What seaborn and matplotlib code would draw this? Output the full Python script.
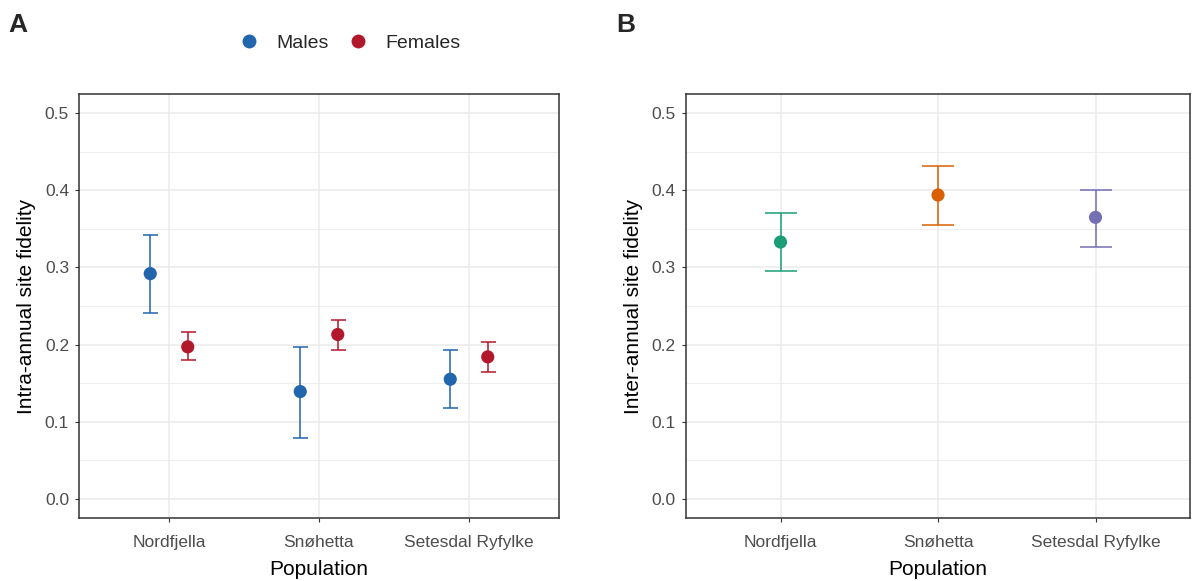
import numpy as np
import pandas as pd
import matplotlib
matplotlib.use("Agg")
import matplotlib.pyplot as plt
import seaborn as sns
from matplotlib.lines import Line2D

# ---------------- data ----------------
populations = ["Nordfjella", "Snøhetta", "Setesdal Ryfylke"]
sexes = ["Males", "Females"]

intra_males = [0.292, 0.139, 0.155]
intra_males_lo = [0.241, 0.079, 0.118]
intra_males_hi = [0.342, 0.197, 0.193]

intra_females = [0.197, 0.213, 0.184]
intra_females_lo = [0.180, 0.193, 0.164]
intra_females_hi = [0.216, 0.232, 0.203]

inter_values = [0.333, 0.394, 0.365]
inter_lo = [0.295, 0.355, 0.326]
inter_hi = [0.371, 0.431, 0.401]

yticks = [0.0, 0.1, 0.2, 0.3, 0.4, 0.5]

# ---------------- style ----------------
sns.set_theme(style="white")
plt.rcParams["font.family"] = ["Liberation Sans", "DejaVu Sans"]

sex_colors = {"Males": "#2166AC", "Females": "#B2182B"}
pop_colors = ["#1B9E77", "#D95F02", "#7570B3"]
dodge = 0.125

W, H = 1193, 581
fig = plt.figure(figsize=(W / 100, H / 100), dpi=100)

def px_axes(left, top, right, bottom):
    return fig.add_axes([left / W, 1 - bottom / H, (right - left) / W, (bottom - top) / H])

axA = px_axes(79, 94, 559, 518)
axB = px_axes(686, 94, 1190, 518)

# panel A data frame
dfA = pd.DataFrame({
    "population": populations * 2,
    "sex": ["Males"] * 3 + ["Females"] * 3,
    "value": intra_males + intra_females,
    "lo": intra_males_lo + intra_females_lo,
    "hi": intra_males_hi + intra_females_hi,
})
dfA["pos"] = dfA["population"].map({p: i for i, p in enumerate(populations)}) + \
    dfA["sex"].map({"Males": -dodge, "Females": dodge})

for sex in sexes:
    sub = dfA[dfA["sex"] == sex]
    axA.errorbar(sub["pos"], sub["value"],
                 yerr=[sub["value"] - sub["lo"], sub["hi"] - sub["value"]],
                 fmt="none", ecolor=sex_colors[sex], elinewidth=1.1,
                 capsize=5.4, capthick=1.1, zorder=3)
sns.scatterplot(data=dfA, x="pos", y="value", hue="sex", hue_order=sexes,
                palette=sex_colors, s=90, edgecolor="none", legend=False,
                ax=axA, zorder=4)

# panel B data frame
dfB = pd.DataFrame({
    "population": populations,
    "value": inter_values,
    "lo": inter_lo,
    "hi": inter_hi,
})
dfB["pos"] = np.arange(len(populations))
for i, row in dfB.iterrows():
    axB.errorbar([row["pos"]], [row["value"]],
                 yerr=[[row["value"] - row["lo"]], [row["hi"] - row["value"]]],
                 fmt="none", ecolor=pop_colors[i], elinewidth=1.1,
                 capsize=11.2, capthick=1.1, zorder=3)
sns.scatterplot(data=dfB, x="pos", y="value", hue="population",
                hue_order=populations, palette=pop_colors, s=90,
                edgecolor="none", legend=False, ax=axB, zorder=4)

for ax, ylab in [(axA, "Intra-annual site fidelity"), (axB, "Inter-annual site fidelity")]:
    ax.set_xlim(-0.6, 2.6)
    ax.set_ylim(-0.025, 0.525)
    ax.set_xticks(range(len(populations)))
    ax.set_xticklabels(populations)
    ax.set_yticks(yticks)
    ax.set_yticklabels([f"{t:.1f}" for t in yticks])
    ax.set_yticks([0.05, 0.15, 0.25, 0.35, 0.45], minor=True)
    ax.grid(True, which="major", color="#EBEBEB", linewidth=1.1)
    ax.grid(True, which="minor", axis="y", color="#EBEBEB", linewidth=0.6)
    ax.set_axisbelow(True)
    for s in ax.spines.values():
        s.set_visible(True)
        s.set_color("#333333")
        s.set_linewidth(1.1)
    ax.tick_params(axis="both", which="major", length=3.2, width=0.8,
                   color="#333333", labelcolor="#4D4D4D", labelsize=12.5,
                   left=True, bottom=True)
    ax.tick_params(axis="x", pad=9)
    ax.tick_params(axis="y", pad=4)
    ax.tick_params(axis="y", which="minor", length=0)
    ax.set_xlabel("Population", fontsize=15, color="black", labelpad=7)
    ax.set_ylabel(ylab, fontsize=15, color="black", labelpad=6)

# legend
handles = [Line2D([], [], marker="o", linestyle="none", markersize=10,
                  markerfacecolor=sex_colors[s], markeredgecolor="none")
           for s in sexes]
fig.legend(handles, sexes, loc="center", bbox_to_anchor=(349 / W, 1 - 43 / H),
           ncol=2, frameon=False, fontsize=14, handletextpad=0.8,
           columnspacing=0.9, handlelength=1.2)

# panel labels
fig.text(18 / W, 1 - 25 / H, "A", fontsize=19, fontweight="bold",
         ha="center", va="center")
fig.text(626 / W, 1 - 25 / H, "B", fontsize=19, fontweight="bold",
         ha="center", va="center")

fig.savefig("out.png", dpi=100)
